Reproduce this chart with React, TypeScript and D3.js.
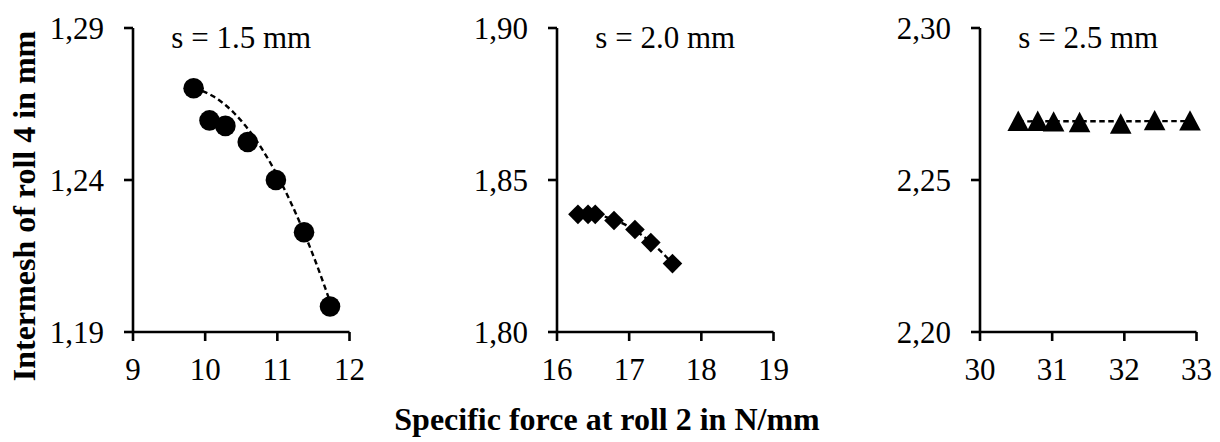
import React from "react";
import * as d3 from "d3";

// ---- data ----
const panelTitles = ["s = 1.5 mm", "s = 2.0 mm", "s = 2.5 mm"];
const xDomains: [number, number][] = [[9, 12], [16, 19], [30, 33]];
const xTickValues = [[9, 10, 11, 12], [16, 17, 18, 19], [30, 31, 32, 33]];
const yDomains: [number, number][] = [[1.19, 1.29], [1.8, 1.9], [2.2, 2.3]];
const yTickValues = [[1.19, 1.24, 1.29], [1.8, 1.85, 1.9], [2.2, 2.25, 2.3]];

const force15 = [9.84, 10.06, 10.28, 10.59, 10.98, 11.37, 11.73];
const intermesh15 = [1.2702, 1.2596, 1.2578, 1.2525, 1.24, 1.2228, 1.1984];
const force20 = [16.29, 16.43, 16.53, 16.79, 17.08, 17.3, 17.6];
const intermesh20 = [1.8387, 1.8387, 1.8387, 1.8367, 1.8337, 1.8294, 1.8225];
const force25 = [30.53, 30.8, 31.02, 31.38, 31.95, 32.42, 32.91];
const intermesh25 = [2.2695, 2.2695, 2.2693, 2.2691, 2.2686, 2.2697, 2.2696];

// trendline of s = 1.5 mm: quadratic around x = 10.98
const trend15Center = 10.98;
const trend15Coefs = [1.2424, -0.0438, -0.0171];

const forces = [force15, force20, force25];
const intermeshes = [intermesh15, intermesh20, intermesh25];
const trendDegrees = [2, 2, 1];
const markerKinds = ["circle", "diamond", "triangle"];

const yTitle = "Intermesh of roll 4 in mm";
const xTitle = "Specific force at roll 2 in N/mm";

// ---- layout ----
const W = 1220;
const H = 442;
const panelLefts = [133, 557, 980];
const plotW = 216.5;
const plotTop = 28;
const plotBottom = 332;
const FONT = "'Liberation Serif', 'Times New Roman', Times, serif";
const tickFont = 31;

function polyEval(coef: number[], center: number) {
  return (x: number) => coef.reduce((s, c, i) => s + c * Math.pow(x - center, i), 0);
}

function polyFit(xs: number[], ys: number[], deg: number) {
  const mx = d3.mean(xs) as number;
  const n = deg + 1;
  const A: number[][] = Array.from({ length: n }, () => new Array(n + 1).fill(0));
  xs.forEach((x0, k) => {
    const x = x0 - mx;
    for (let i = 0; i < n; i++) {
      for (let j = 0; j < n; j++) A[i][j] += Math.pow(x, i + j);
      A[i][n] += Math.pow(x, i) * ys[k];
    }
  });
  for (let i = 0; i < n; i++) {
    let p = i;
    for (let r = i + 1; r < n; r++) if (Math.abs(A[r][i]) > Math.abs(A[p][i])) p = r;
    [A[i], A[p]] = [A[p], A[i]];
    for (let r = 0; r < n; r++) {
      if (r === i) continue;
      const f = A[r][i] / A[i][i];
      for (let c = i; c <= n; c++) A[r][c] -= f * A[i][c];
    }
  }
  const coef = A.map((row, i) => row[n] / row[i]);
  return polyEval(coef, mx);
}

function Marker({ kind, cx, cy }: { kind: string; cx: number; cy: number }) {
  if (kind === "circle") return <circle cx={cx} cy={cy} r={10.3} fill="#000" />;
  if (kind === "diamond") {
    const r = 9.8;
    return <path d={`M${cx},${cy - r}L${cx + r},${cy}L${cx},${cy + r}L${cx - r},${cy}Z`} fill="#000" />;
  }
  const hw = 10.8, hh = 10.2;
  return <path d={`M${cx},${cy - hh}L${cx + hw},${cy + hh}L${cx - hw},${cy + hh}Z`} fill="#000" />;
}

function Panel({ idx }: { idx: number }) {
  const left = panelLefts[idx];
  const x = d3.scaleLinear().domain(xDomains[idx]).range([left, left + plotW]);
  const y = d3.scaleLinear().domain(yDomains[idx]).range([plotBottom, plotTop]);
  const xs = forces[idx];
  const ys = intermeshes[idx];
  const fit = idx === 0 ? polyEval(trend15Coefs, trend15Center) : polyFit(xs, ys, trendDegrees[idx]);
  const [x0, x1] = d3.extent(xs) as [number, number];
  const samples = d3.range(0, 61).map((i) => x0 + ((x1 - x0) * i) / 60);
  const line = d3
    .line<number>()
    .x((d) => x(d))
    .y((d) => y(fit(d)))
    .curve(d3.curveLinear);
  const fmt = (v: number) => d3.format(".2f")(v).replace(".", ",");
  return (
    <g>
      <line x1={left} x2={left} y1={plotTop} y2={plotBottom} stroke="#000" strokeWidth={2.6} />
      <line x1={left} x2={left + plotW} y1={plotBottom} y2={plotBottom} stroke="#000" strokeWidth={2.6} />
      {yTickValues[idx].map((t) => (
        <g key={"y" + t}>
          <line x1={left - 9} x2={left} y1={y(t)} y2={y(t)} stroke="#000" strokeWidth={2.6} />
          <text x={left - 29} y={y(t) + 10.5} textAnchor="end" fontSize={tickFont} fontFamily={FONT}>
            {fmt(t)}
          </text>
        </g>
      ))}
      {xTickValues[idx].map((t) => (
        <g key={"x" + t}>
          <line x1={x(t)} x2={x(t)} y1={plotBottom} y2={plotBottom + 9} stroke="#000" strokeWidth={2.6} />
          <text x={x(t)} y={plotBottom + 48} textAnchor="middle" fontSize={tickFont} fontFamily={FONT}>
            {t}
          </text>
        </g>
      ))}
      <text x={left + plotW / 2} y={48} textAnchor="middle" fontSize={tickFont} fontFamily={FONT}>
        {panelTitles[idx]}
      </text>
      <path d={line(samples) || ""} fill="none" stroke="#000" strokeWidth={2.4} strokeDasharray="5.5,3.5" />
      {xs.map((v, i) => (
        <Marker key={i} kind={markerKinds[idx]} cx={x(v)} cy={y(ys[i])} />
      ))}
    </g>
  );
}

export default function App() {
  return (
    <svg
      width={W}
      height={H}
      viewBox={`0 0 ${W} ${H}`}
      style={{ position: "absolute", left: 0, top: 0, background: "#fff" }}
    >
      <rect x={0} y={0} width={W} height={H} fill="#fff" />
      {[0, 1, 2].map((i) => (
        <Panel key={i} idx={i} />
      ))}
      <text
        transform={`translate(35,206) rotate(-90)`}
        textAnchor="middle"
        fontSize={32}
        fontWeight="bold"
        fontFamily={FONT}
      >
        {yTitle}
      </text>
      <text x={607} y={430} textAnchor="middle" fontSize={32} fontWeight="bold" fontFamily={FONT}>
        {xTitle}
      </text>
    </svg>
  );
}
